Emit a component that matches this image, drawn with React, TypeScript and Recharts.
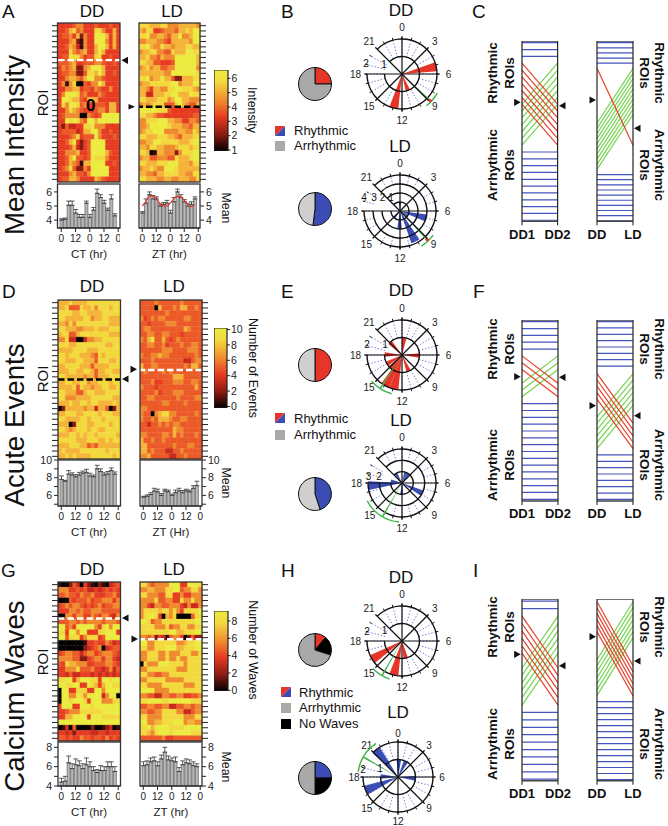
// App.tsx - circadian ROI figure (panels A-I)
import React from 'react';
import {
  Bar,
  BarChart,
  Cell,
  ComposedChart,
  ErrorBar,
  Line,
  LineChart,
  Pie,
  PieChart,
  PolarAngleAxis,
  PolarGrid,
  Radar,
  RadarChart,
  ReferenceLine,
  XAxis,
  YAxis,
} from 'recharts';

const FONT = '"Liberation Sans", Arial, sans-serif';
const RED = '#e8352a';
const BLUE = '#3b4cb4';
const GREEN = '#3fb54a';

// heat levels 0 (black) .. 9 (yellow), one string per ROI, one digit per 3 hr bin
const heatColors = ['#050000', '#3a0808', '#8a1a10', '#c92a1c', '#e63c22', '#ec5a28', '#f08a2e', '#f5b33a', '#f3d93e', '#ecec40'];

const intensityDD = [
  '44445664445444544', '44578564448864474', '45564726449997474', '44467216449996474', '44576316447997474',
  '44486567447974444', '45598864558844544', '55567445556654454', '46567226799974444', '45566225887974454',
  '44677657996654444', '46168005466974444', '44667745546544644', '46999856444654444', '49987754777444444',
  '48699856445554774', '44687654445664774', '45666600654599999', '44989865997999999', '42533448896664444',
  '45555347799644544', '44456845559644454', '44579424599994444', '44457324599994444', '44666744599997544',
  '44579554598886444', '44576517799994454', '45685226499999444', '44467554699999444', '45577644447654444',
];
const intensityLD = [
  '88877788666777776', '76884456665778799', '88966776577966799', '66777665477777699', '88976687767778877',
  '67788665587779988', '77866576669999997', '88775544459999997', '67867755669999996', '77777776699999998',
  '88967797752277788', '67788888899677799', '77647766889988876', '77337778899777988', '88777888679977666',
  '67678885558976557', '99999888544444444', '88776554444444455', '66888999776644665', '66799999877766577',
  '67889996666776687', '88777888776577788', '66779988888777899', '77688776667888788', '88701776662688899',
  '67755666558777899', '88777888999777688', '67787669998777777', '77665778888776688', '88777667766777668',
];
const eventsDD = [
  '77787777888888888', '77855587786888788', '88887788777788888', '88777778867788777', '77686888888888777',
  '88777667778777888', '78855788888888777', '66833003667788888', '88877888888887788', '77778888777888888',
  '88788877765878888', '88777887775888778', '77888877757777888', '77788778875778877', '88777776775777888',
  '77887788677888788', '77778587767788778', '88777557887778888', '88666777788888877', '77787788788777787',
  '02777776773775027', '77888778888788877', '88777788788878888', '77702888778888788', '88767888788778888',
  '77788787887888887', '88888777888778788', '77788877565777777', '78777788888887888', '77878777788888878',
];
const eventsLD = [
  '55556555555655555', '55550755565775565', '55555556555555555', '64565665555566555', '55455556665555555',
  '56655555555576555', '55665566555455555', '65795575456555555', '55665564555655665', '55555566655556665',
  '65566766555555565', '55565555555533566', '75566555555565775', '56555565655555555', '55555555577755555',
  '55564455566655665', '65554555555555575', '55556455566655555', '55665555556555566', '55555566555565555',
  '66555555555555555', '65506788665555565', '65565777655665555', '55355656566555555', '55555555576655555',
  '66555566575655565', '75565565555555555', '77555555565556655', '77565553355655555', '66755555335565555',
];
const wavesDD = [
  '10025304210210345', '66644545334345454', '55655465564445564', '00054555645566646', '45656654545645566',
  '44466565566655555', '00664664465466436', '55566565666656665', '99564999996489699', '88499699444889994',
  '99588846888459999', '00000001445446534', '00000002345603455', '45665535664566654', '66665522456646643',
  '54877666445556654', '44666855564434635', '44353344434343434', '88994799988499899', '99889944987479988',
  '09944888449969999', '09966986999936990', '09989998499966688', '49994499989999999', '44566688888899999',
  '44779999499988888', '99999999999999999', '01305000020012301', '44342444433443444', '55454465545546454',
];
const wavesLD = [
  '88656666999449998', '66776668899566886', '88666558844644666', '66668556644866866', '66436655666436336',
  '68888788686488889', '68998407680000588', '99856688888888899', '88886668566886688', '88888888997788899',
  '66562431566402522', '99668888886678899', '88668889997788899', '66888668666888668', '66888668668668888',
  '08666999888868888', '66888888886668888', '88665566888888888', '66888886666688888', '88666688888866688',
  '99996666888888888', '66553366556644556', '88999988999999888', '55665566335566566', '66556688886633566',
  '88666688888866688', '99667788899967766', '88979999888899999', '88768999899999888', '55555564455555555',
];

// mean traces, 3 hr bins over two days (the last bin at 48 hr has no bar)
const hours = [0, 3, 6, 9, 12, 15, 18, 21, 24, 27, 30, 33, 36, 39, 42, 45, 48];
const meanIntensityDD = [4.0, 4.05, 5.05, 5.05, 4.5, 4.2, 4.2, 5.2, 4.2, 4.7, 5.9, 5.6, 5.2, 4.7, 5.5, 4.3];
const meanIntensityDDErr = [0.1, 0.1, 0.3, 0.3, 0.25, 0.2, 0.2, 0.15, 0.2, 0.2, 0.3, 0.2, 0.2, 0.15, 0.3, 0.15];
const meanIntensityLD = [4.5, 5.2, 5.8, 5.5, 5.5, 5.0, 5.1, 5.2, 4.5, 5.3, 6.0, 5.6, 5.3, 5.0, 5.1, 5.5];
const meanIntensityLDErr = [0.1, 0.3, 0.2, 0.25, 0.15, 0.15, 0.15, 0.2, 0.2, 0.3, 0.2, 0.2, 0.15, 0.2, 0.2, 0.15];
const intensityFitLD = [5.0, 5.3, 5.7, 5.7, 5.5, 5.2, 5.0, 5.0, 5.2, 5.5, 5.7, 5.65, 5.4, 5.1, 4.95, 5.1];
const meanEventsDD = [7.8, 7.6, 8.4, 8.3, 8.1, 8.3, 8.5, 8.6, 8.2, 8.1, 9.0, 8.7, 8.3, 8.4, 8.8, 8.4];
const meanEventsDDErr = [0.4, 0.1, 0.4, 0.25, 0.25, 0.3, 0.25, 0.35, 0.3, 0.2, 0.4, 0.3, 0.25, 0.3, 0.3, 0.25];
const meanEventsLD = [5.8, 5.9, 6.1, 6.5, 6.4, 6.0, 6.5, 6.4, 6.0, 6.3, 6.5, 6.3, 6.5, 6.4, 6.8, 7.1];
const meanEventsLDErr = [0.1, 0.15, 0.2, 0.3, 0.3, 0.2, 0.2, 0.2, 0.15, 0.3, 0.3, 0.25, 0.2, 0.2, 0.3, 0.5];
const meanWavesDD = [4.4, 4.5, 6.4, 5.8, 6.2, 6.1, 5.8, 6.2, 6.0, 5.6, 5.4, 5.6, 5.6, 6.0, 6.0, 5.5];
const meanWavesDDErr = [0.4, 0.5, 0.7, 0.5, 0.6, 0.5, 0.5, 0.7, 0.5, 0.4, 0.3, 0.5, 0.4, 0.5, 0.5, 0.5];
const meanWavesLD = [6.1, 6.2, 6.5, 6.6, 6.1, 6.8, 7.5, 6.7, 6.6, 6.5, 5.5, 6.2, 6.4, 6.3, 6.1, 6.0];
const meanWavesLDErr = [0.4, 0.4, 0.4, 0.4, 0.4, 0.4, 0.5, 0.4, 0.3, 0.5, 0.4, 0.4, 0.4, 0.4, 0.4, 0.3];

// rose plots: bin start hour and ROI count
const roseBDDHours = [4.7, 10.2, 12.4];
const roseBDDCounts = [2, 1, 2];
const roseBLDHours = [23.5, 6.5, 7.6, 9.7, 11.6, 14.2];
const roseBLDCounts = [1, 3, 1, 3.8, 2, 1];
const roseEDDHours = [0, 20.6, 17.6, 5.6, 10, 14.3, 12.4, 13.4, 15.5];
const roseEDDCounts = [1, 1, 1, 1, 1, 1, 2, 2, 1];
const roseELDHours = [21.3, 0.8, 1.8, 17.2, 7.3, 11.6, 18.2];
const roseELDCounts = [1, 1, 1, 3, 2, 1, 1];
const roseHDDHours = [15.4, 12.4, 10.7];
const roseHDDCounts = [2, 2, 1];
const roseHLDHours = [20.9, 23.7, 1.3, 5.8, 17.6, 16];
const roseHLDCounts = [2, 1, 1, 1, 1, 2];

// pies, share of ROIs
const pieBDD = [25, 75];
const pieBLD = [52, 48];
const pieEDD = [50, 50];
const pieELD = [45, 55];
const pieHDD = [11, 19, 70];
const pieHLD = [25, 25, 50];

// alluvial ranks: blue keep their class, red and green go from -> to
const cDD = {
  blue: [0, 1, 2, 16, 17, 18, 19, 20, 21, 22, 23, 24, 25, 26],
  redFrom: [3, 4, 5, 6, 7, 8, 9], redTo: [9, 10, 11, 12, 13, 14, 15],
  greenFrom: [9, 10, 11, 12, 13, 14, 15], greenTo: [3, 4, 5, 6, 7, 8, 9],
};
const cLD = {
  blue: [0, 1, 2, 3, 4, 25.7, 26.7, 27.7, 28.7, 29.7, 30.7, 31.7, 32.7, 33.7, 34.7],
  redFrom: [5], redTo: [20],
  greenFrom: [15.7, 16.7, 17.7, 18.7, 19.7, 20.7, 21.7, 22.7, 23.7, 24.7], greenTo: [5, 6, 7, 8, 9, 10, 11, 12, 13, 14],
};
const fDD = {
  blue: [0, 1, 2, 3, 4, 12, 13, 14, 15, 16, 17, 18, 19, 20, 21, 22, 23, 24, 25, 26],
  redFrom: [5, 6, 7], redTo: [9, 10, 11],
  greenFrom: [9, 10, 11], greenTo: [5, 6, 7],
};
const fLD = {
  blue: [0, 1, 2, 3, 4, 5, 6, 7, 21, 22, 23, 24, 25, 26, 27, 28],
  redFrom: [8.2, 9.2, 10.2, 11.2, 12.2], redTo: [16, 17, 18, 19, 20],
  greenFrom: [15, 16, 17, 18, 19, 20], greenTo: [8.2, 9.2, 10.2, 11.2, 12.2, 13.2],
};
const iDD = {
  blue: [0, 1, 15, 16, 17, 18, 19, 20, 21, 22, 23, 24],
  redFrom: [2, 3, 4, 5, 6, 7], redTo: [9, 10, 11, 12, 13, 14],
  greenFrom: [9, 10, 11, 12, 13, 14], greenTo: [2, 3, 4, 5, 6, 7],
};
const iLD = {
  blue: [16.7, 17.7, 18.7, 19.7, 20.7, 21.7, 22.7, 23.7, 24.7, 25.7, 26.7, 27.7, 28.7, 29.7],
  redFrom: [0, 1, 2, 3, 4, 5], redTo: [10.7, 11.7, 12.7, 13.7, 14.7, 15.7],
  greenFrom: [9.7, 10.7, 11.7, 12.7, 13.7, 14.7, 15.7], greenTo: [0, 1, 2, 3, 4, 5, 6],
};

const dayHours = Array.from({ length: 24 }, (_, h) => h);

function HeatPanel({ x, y, w, h, rows, side, dashAt, dashColor }: any) {
  const data = hours.map((hour) => {
    const row: any = { hour };
    rows.forEach((_: string, r: number) => {
      row[`r${r}`] = 1;
    });
    return row;
  });
  const ticks = rows.map((_: string, r: number) => r + 0.5);
  const axisW = 9;
  return (
    <div style={{ position: 'absolute', left: side === 'left' ? x - axisW : x, top: y }}>
      <BarChart width={w + axisW} height={h} data={data} margin={{ top: 0, right: 0, bottom: 0, left: 0 }} barCategoryGap={0} barGap={0}>
        <XAxis dataKey="hour" hide />
        <YAxis
          orientation={side}
          width={axisW}
          type="number"
          reversed
          domain={[0, rows.length]}
          ticks={ticks}
          interval={0}
          tick={() => <g />}
          axisLine={false}
          tickSize={6}
          tickLine={{ stroke: '#222', strokeWidth: 1 }}
        />
        {rows.map((row: string, r: number) => (
          <Bar key={r} dataKey={`r${r}`} stackId="heat" isAnimationActive={false}>
            {hours.map((_, c) => {
              const color = heatColors[Number(row[c] ?? 4)];
              return <Cell key={c} fill={color} stroke={color} strokeWidth={0.3} />;
            })}
          </Bar>
        ))}
        <ReferenceLine y={dashAt} stroke={dashColor} strokeWidth={2.4} strokeDasharray="6.5 3" />
      </BarChart>
    </div>
  );
}

function MeanPanel({ x, y, w, h, values, errs, fit, domain, ticks, labels, side, name }: any) {
  const data = hours.map((hour, i) => ({
    hour,
    mean: values[i],
    err: values[i] === undefined ? undefined : [0, errs[i]],
    fit: fit ? fit[i] : undefined,
  }));
  const axisW = 24;
  const top = 7;
  return (
    <div style={{ position: 'absolute', left: side === 'left' ? x - axisW : x, top: y - top }}>
      <ComposedChart width={w + axisW} height={h + top + 36} data={data} margin={{ top, right: 0, bottom: 0, left: 0 }} barCategoryGap={0.5}>
        <XAxis
          dataKey="hour"
          ticks={[0, 12, 24, 36, 48]}
          interval={0}
          padding={{ left: 1.5, right: 0 }}
          height={36}
          tickSize={4}
          tickMargin={3}
          tick={{ fontSize: 10, fill: '#222', fontFamily: FONT }}
          tickLine={{ stroke: '#222' }}
          axisLine={{ stroke: '#222', strokeWidth: 1.2 }}
          tickFormatter={(v: number) => String(v % 24)}
          label={{ value: name, position: 'insideBottom', offset: 6, style: { fontSize: 11.5, fill: '#222', fontFamily: FONT } }}
        />
        <YAxis
          orientation={side}
          width={axisW}
          type="number"
          domain={domain}
          allowDataOverflow
          ticks={ticks}
          interval={0}
          tickSize={4}
          tickMargin={2}
          axisLine={false}
          tick={{ fontSize: 10.5, fill: '#222', fontFamily: FONT }}
          tickLine={{ stroke: '#222' }}
          tickFormatter={(v: number) => (labels.includes(v) ? String(v) : '')}
        />
        <Bar dataKey="mean" fill="#b7b7b7" stroke="#555" strokeWidth={0.6} isAnimationActive={false}>
          <ErrorBar dataKey="err" width={2.4} stroke="#333" strokeWidth={0.8} isAnimationActive={false} />
        </Bar>
        {fit && <Line dataKey="fit" type="monotone" stroke={RED} strokeWidth={1.2} dot={false} isAnimationActive={false} />}
      </ComposedChart>
    </div>
  );
}

function ColorBar({ x, y, w, h, domain, ticks, id }: any) {
  const pad = 7;
  return (
    <div style={{ position: 'absolute', left: x, top: y - pad }}>
      <BarChart width={w + 22} height={h + pad * 2} data={[{ name: 'scale', range: domain }]} margin={{ top: pad, right: 0, bottom: pad, left: 0 }} barCategoryGap={0}>
        <defs>
          <linearGradient id={id} x1="0" y1="0" x2="0" y2="1">
            <stop offset="0" stopColor="#ecec40" />
            <stop offset="0.15" stopColor="#f3d93e" />
            <stop offset="0.38" stopColor="#f08a2e" />
            <stop offset="0.58" stopColor="#e63c22" />
            <stop offset="0.8" stopColor="#8a1a10" />
            <stop offset="1" stopColor="#000" />
          </linearGradient>
        </defs>
        <XAxis dataKey="name" hide />
        <YAxis
          orientation="right"
          width={22}
          type="number"
          domain={domain}
          allowDataOverflow
          ticks={ticks}
          interval={0}
          tickSize={3}
          tickMargin={1}
          axisLine={false}
          tick={{ fontSize: 10.5, fill: '#222', fontFamily: FONT }}
          tickLine={{ stroke: '#222' }}
        />
        <Bar dataKey="range" fill={`url(#${id})`} stroke="#222" strokeWidth={1.2} isAnimationActive={false} />
      </BarChart>
    </div>
  );
}

function SharePie({ x, y, shares, colors }: any) {
  const data = shares.map((value: number, i: number) => ({ value, fill: colors[i] }));
  return (
    <div style={{ position: 'absolute', left: x - 20, top: y - 20 }}>
      <PieChart width={40} height={40} margin={{ top: 0, right: 0, bottom: 0, left: 0 }}>
        <Pie data={data} dataKey="value" cx={20} cy={20} outerRadius={16.5} startAngle={90} endAngle={-270} stroke="#111" strokeWidth={1} isAnimationActive={false} />
      </PieChart>
    </div>
  );
}

const SIZE = 124;
const MID = SIZE / 2;
const hourAngle = (h: number) => 90 - 15 * h;

// one-datum pie used as an arc or wedge between two clock hours
function sector(key: string, from: number, to: number, inner: number, outer: number, fill: string) {
  return (
    <Pie
      key={key}
      data={[{ value: 1, fill }]}
      dataKey="value"
      cx={MID}
      cy={MID}
      innerRadius={inner}
      outerRadius={outer}
      startAngle={hourAngle(from)}
      endAngle={hourAngle(to)}
      stroke="none"
      isAnimationActive={false}
      legendType="none"
    />
  );
}

function Rose({ x, y, R, levels, binHours, binCounts, color, dotFrom, meanHr, arcFrom, arcTo, dot, labelGap = 11.5 }: any) {
  const tableHours = dayHours.map((h) => ({ h, v: 1 }));
  const renderTick = (p: any) => {
    const hour = tableHours[p.index]?.h ?? 0;
    if (hour % 3 !== 0) return <g />;
    const dx = p.x - MID;
    const dy = p.y - MID;
    const len = Math.hypot(dx, dy) || 1;
    const k = (R + labelGap) / len;
    return (
      <text x={MID + dx * k} y={MID + dy * k} textAnchor="middle" dominantBaseline="central" fontSize={10} fill="#222" fontFamily={FONT}>
        {hour}
      </text>
    );
  };
  const rings = Array.from({ length: levels }, (_, i) => ((i + 1) / levels) * R);
  const box: any = { position: 'absolute', left: 0, top: 0 };
  return (
    <div style={{ position: 'absolute', left: x - MID, top: y - MID, width: SIZE, height: SIZE }}>
      <div style={box}>
        <RadarChart width={SIZE} height={SIZE} data={tableHours} cx={MID} cy={MID} innerRadius={R * dotFrom} outerRadius={R} margin={{ top: 0, right: 0, bottom: 0, left: 0 }}>
          <PolarGrid gridType="circle" polarRadius={[]} stroke="#6a6ad8" strokeWidth={0.9} strokeDasharray="1.4 1.8" />
          <PolarAngleAxis dataKey="h" axisLine={false} tick={renderTick} tickSize={2.5} tickLine={{ stroke: '#111', strokeWidth: 1 }} />
          <Radar dataKey="v" stroke="none" fill="none" isAnimationActive={false} dot={false} />
        </RadarChart>
      </div>
      <div style={box}>
        <PieChart width={SIZE} height={SIZE} margin={{ top: 0, right: 0, bottom: 0, left: 0 }}>
          {binHours.map((h: number, i: number) => sector(`w${i}`, h, h + 1, 0, (binCounts[i] / levels) * R, color))}
          {rings.map((r, i) => sector(`r${i}`, 21, 42, r - 0.7, r + 0.7, '#111'))}
          {sector('mean', meanHr - 0.08, meanHr + 0.08, 0, R + 5, GREEN)}
          {sector('ci', arcFrom, arcTo, R + 4.4, R + 5.8, GREEN)}
          {dot && sector('dot', meanHr - 0.15, meanHr + 0.15, R + 2, R + 5, RED)}
        </PieChart>
      </div>
      <div style={box}>
        <RadarChart width={SIZE} height={SIZE} data={tableHours} cx={MID} cy={MID} innerRadius={0} outerRadius={R + 2.5} margin={{ top: 0, right: 0, bottom: 0, left: 0 }}>
          <PolarGrid gridType="circle" polarRadius={[]} polarAngles={[0, 3, 6, 9, 12, 15, 18, 21].map(hourAngle)} stroke="#111" strokeWidth={1.2} />
          <Radar dataKey="v" stroke="none" fill="none" isAnimationActive={false} dot={false} />
        </RadarChart>
      </div>
    </div>
  );
}

function Alluvial({ x, y, w, h, table, ticks, domain }: any) {
  const left: any = { name: ticks[0] };
  const right: any = { name: ticks[1] };
  const series: { key: string; color: string }[] = [];
  table.blue.forEach((k: number, i: number) => {
    left[`b${i}`] = k;
    right[`b${i}`] = k;
    series.push({ key: `b${i}`, color: '#4455bd' });
  });
  table.greenFrom.forEach((k: number, i: number) => {
    left[`g${i}`] = k;
    right[`g${i}`] = table.greenTo[i];
    series.push({ key: `g${i}`, color: '#74d44e' });
  });
  table.redFrom.forEach((k: number, i: number) => {
    left[`r${i}`] = k;
    right[`r${i}`] = table.redTo[i];
    series.push({ key: `r${i}`, color: '#e8412c' });
  });
  const pad = 22;
  return (
    <div style={{ position: 'absolute', left: x - pad, top: y }}>
      <LineChart width={w + pad * 2} height={h + 28} data={[left, right]} margin={{ top: 0, right: pad, bottom: 0, left: pad }}>
        <XAxis
          dataKey="name"
          interval={0}
          padding={{ left: 0, right: 0 }}
          height={28}
          tickSize={4}
          tickMargin={4}
          axisLine={false}
          tick={{ fontSize: 13, fontWeight: 700, fill: '#111', fontFamily: FONT }}
          tickLine={{ stroke: '#111' }}
        />
        <YAxis hide reversed type="number" domain={domain} allowDataOverflow />
        {series.map((s) => (
          <Line key={s.key} dataKey={s.key} stroke={s.color} strokeWidth={1.2} dot={false} isAnimationActive={false} />
        ))}
        <ReferenceLine x={ticks[0]} stroke="#222" strokeWidth={1.2} />
        <ReferenceLine x={ticks[1]} stroke="#222" strokeWidth={1.2} />
        <ReferenceLine y={domain[0]} stroke="#444" strokeWidth={1.6} />
        <ReferenceLine y={domain[1]} stroke="#444" strokeWidth={1.6} />
      </LineChart>
    </div>
  );
}

function T({ x, y, size, rot, anchor = 'middle', weight, children }: any) {
  return (
    <text
      x={x}
      y={y}
      fontSize={size}
      fontWeight={weight}
      fill="#111"
      fontFamily={FONT}
      textAnchor={anchor}
      transform={rot ? `rotate(${rot} ${x} ${y})` : undefined}
    >
      {children}
    </text>
  );
}

// x is the tip, dir +1 points right, -1 points left
function Arrow({ x, y, dir, s = 3.6 }: any) {
  return <polygon points={`${x},${y} ${x - dir * 6.5},${y - s} ${x - dir * 6.5},${y + s}`} fill="#111" />;
}

function RowAnnotations({ rhythmicY, arrhythmicY }: any) {
  return (
    <>
      <T x={497} y={rhythmicY} size={13.5} rot={-90} weight={700}>Rhythmic</T>
      <T x={513.5} y={rhythmicY} size={13.5} rot={-90} weight={700}>ROIs</T>
      <T x={497} y={arrhythmicY} size={13.5} rot={-90} weight={700}>Arrhythmic</T>
      <T x={513.5} y={arrhythmicY} size={13.5} rot={-90} weight={700}>ROIs</T>
      <T x={655} y={rhythmicY} size={13.5} rot={90} weight={700}>Rhythmic</T>
      <T x={640} y={rhythmicY} size={13.5} rot={90} weight={700}>ROIs</T>
      <T x={655} y={arrhythmicY} size={13.5} rot={90} weight={700}>Arrhythmic</T>
      <T x={640} y={arrhythmicY} size={13.5} rot={90} weight={700}>ROIs</T>
    </>
  );
}

function Swatch({ x, y }: any) {
  return (
    <>
      <polygon points={`${x},${y} ${x + 10},${y} ${x},${y + 10}`} fill={RED} />
      <polygon points={`${x + 10},${y} ${x + 10},${y + 10} ${x},${y + 10}`} fill={BLUE} />
    </>
  );
}

function Frame({ x, y, w, h }: any) {
  return <rect x={x} y={y} width={w} height={h} fill="none" stroke="#333" strokeWidth={1.3} />;
}

export default function App() {
  return (
    <div style={{ position: 'absolute', left: 0, top: 0, width: 668, height: 826, overflow: 'hidden', background: '#fff' }}>
      <HeatPanel x={57.5} y={23} w={62} h={159} rows={intensityDD} side="left" dashAt={7} dashColor="#fff" />
      <HeatPanel x={139} y={23} w={61} h={159} rows={intensityLD} side="right" dashAt={15.8} dashColor="#000" />
      <MeanPanel x={57.5} y={184} w={62} h={44} values={meanIntensityDD} errs={meanIntensityDDErr} domain={[3.44, 6.56]} ticks={[4, 5, 6]} labels={[4, 5, 6]} side="left" name="CT (hr)" />
      <MeanPanel x={139} y={184} w={61} h={44} values={meanIntensityLD} errs={meanIntensityLDErr} fit={intensityFitLD} domain={[3.44, 6.56]} ticks={[4, 5, 6]} labels={[4, 5, 6]} side="right" name="ZT (hr)" />
      <ColorBar x={213.5} y={70} w={13.5} h={81} domain={[0.93, 6.58]} ticks={[1, 2, 3, 4, 5, 6]} id="gradA" />

      <HeatPanel x={58} y={300} w={62} h={159} rows={eventsDD} side="left" dashAt={15} dashColor="#000" />
      <HeatPanel x={140} y={300} w={62} h={159} rows={eventsLD} side="right" dashAt={13.2} dashColor="#fff" />
      <MeanPanel x={58} y={460} w={62} h={46} values={meanEventsDD} errs={meanEventsDDErr} domain={[4.8, 10]} ticks={[5, 6, 7, 8, 9, 10]} labels={[6, 8, 10]} side="left" name="CT (hr)" />
      <MeanPanel x={140} y={460} w={62} h={46} values={meanEventsLD} errs={meanEventsLDErr} domain={[4.8, 10]} ticks={[5, 6, 7, 8, 9, 10]} labels={[6, 8, 10]} side="right" name="ZT (Hr)" />
      <ColorBar x={213.5} y={328} w={13} h={80} domain={[-0.2, 10.2]} ticks={[0, 2, 4, 6, 8, 10]} id="gradD" />

      <HeatPanel x={58} y={582} w={62} h={159} rows={wavesDD} side="left" dashAt={6.9} dashColor="#fff" />
      <HeatPanel x={140} y={582} w={62} h={159} rows={wavesLD} side="right" dashAt={10.8} dashColor="#fff" />
      <MeanPanel x={58} y={742} w={62} h={44} values={meanWavesDD} errs={meanWavesDDErr} domain={[4, 8.55]} ticks={[4, 5, 6, 7, 8]} labels={[4, 6, 8]} side="left" name="CT (hr)" />
      <MeanPanel x={140} y={742} w={62} h={44} values={meanWavesLD} errs={meanWavesLDErr} domain={[4, 8.55]} ticks={[4, 5, 6, 7, 8]} labels={[4, 6, 8]} side="right" name="ZT (hr)" />
      <ColorBar x={213.5} y={611} w={13.5} h={80} domain={[-0.08, 9.15]} ticks={[0, 2, 4, 6, 8]} id="gradG" />

      <SharePie x={315} y={83.5} shares={pieBDD} colors={[RED, '#a9a9a9']} />
      <SharePie x={315} y={208.5} shares={pieBLD} colors={[BLUE, '#cfcfcf']} />
      <SharePie x={315} y={365} shares={pieEDD} colors={[RED, '#cfcfcf']} />
      <SharePie x={315} y={493.5} shares={pieELD} colors={[BLUE, '#cfcfcf']} />
      <SharePie x={315} y={650} shares={pieHDD} colors={[RED, '#000', '#a9a9a9']} />
      <SharePie x={315} y={777.5} shares={pieHLD} colors={[BLUE, '#000', '#a9a9a9']} />

      <Rose x={401.7} y={74} R={35} levels={2} binHours={roseBDDHours} binCounts={roseBDDCounts} color={RED} dotFrom={0.5} meanHr={8.9} arcFrom={7.9} arcTo={9.5} dot />
      <Rose x={400} y={210.7} R={36} levels={4} binHours={roseBLDHours} binCounts={roseBLDCounts} color={BLUE} dotFrom={0.75} meanHr={9.1} arcFrom={8.4} arcTo={9.9} dot />
      <Rose x={401.7} y={355} R={35} levels={2} binHours={roseEDDHours} binCounts={roseEDDCounts} color={RED} dotFrom={0.5} meanHr={14.2} arcFrom={13} arcTo={15.3} />
      <Rose x={401.7} y={482.7} R={34} levels={3} binHours={roseELDHours} binCounts={roseELDCounts} color={BLUE} dotFrom={0.66} meanHr={14} arcFrom={12.3} arcTo={16.2} />
      <Rose x={401.7} y={640.7} R={35} levels={2} binHours={roseHDDHours} binCounts={roseHDDCounts} color={RED} dotFrom={0.5} meanHr={14} arcFrom={13.2} arcTo={15.1} />
      <Rose x={398.3} y={776.7} R={35} levels={2} binHours={roseHLDHours} binCounts={roseHLDCounts} color={BLUE} dotFrom={0.5} meanHr={20} arcFrom={18.5} arcTo={21.8} labelGap={9} />

      <Alluvial x={521.7} y={40.7} w={35.6} h={180.3} table={cDD} ticks={['DD1', 'DD2']} domain={[-0.25, 26.15]} />
      <Alluvial x={596.7} y={40.7} w={36} h={180.3} table={cLD} ticks={['DD', 'LD']} domain={[-0.32, 34.8]} />
      <Alluvial x={521.7} y={320} w={36} h={181} table={fDD} ticks={['DD1', 'DD2']} domain={[-0.25, 26.25]} />
      <Alluvial x={596.7} y={320} w={36} h={181} table={fLD} ticks={['DD', 'LD']} domain={[-0.25, 28.25]} />
      <Alluvial x={521.7} y={599} w={36} h={181.7} table={iDD} ticks={['DD1', 'DD2']} domain={[-0.3, 24.2]} />
      <Alluvial x={596.7} y={599} w={36} h={181.7} table={iLD} ticks={['DD', 'LD']} domain={[-0.45, 29.9]} />

      <svg width={668} height={826} style={{ position: 'absolute', left: 0, top: 0, pointerEvents: 'none' }}>
        <Frame x={57.5} y={23} w={62.5} h={159} />
        <Frame x={139} y={23} w={61} h={159} />
        <Frame x={57.5} y={184} w={62.5} h={44} />
        <Frame x={139} y={184} w={61} h={44} />
        <Frame x={58} y={300} w={62.5} h={159} />
        <Frame x={140} y={300} w={62} h={159} />
        <Frame x={58} y={460} w={62.5} h={46} />
        <Frame x={140} y={460} w={62} h={46} />
        <Frame x={58} y={582} w={62.5} h={159} />
        <Frame x={140} y={582} w={62} h={159} />
        <Frame x={58} y={742} w={62.5} h={44} />
        <Frame x={140} y={742} w={62} h={44} />

        <T x={2} y={18} size={19} anchor="start">A</T>
        <T x={281} y={18} size={19} anchor="start">B</T>
        <T x={472} y={18} size={19} anchor="start">C</T>
        <T x={2} y={298} size={19} anchor="start">D</T>
        <T x={281} y={298} size={19} anchor="start">E</T>
        <T x={473} y={298} size={19} anchor="start">F</T>
        <T x={1} y={577} size={19} anchor="start">G</T>
        <T x={281} y={577} size={19} anchor="start">H</T>
        <T x={473} y={577} size={19} anchor="start">I</T>

        <T x={92} y={17} size={17}>DD</T>
        <T x={172} y={17} size={17}>LD</T>
        <T x={92} y={292} size={17}>DD</T>
        <T x={174} y={292} size={17}>LD</T>
        <T x={92} y={575} size={17}>DD</T>
        <T x={174} y={575} size={17}>LD</T>

        <T x={401} y={16} size={17}>DD</T>
        <T x={400} y={152} size={17}>LD</T>
        <T x={401} y={296} size={17}>DD</T>
        <T x={401} y={426} size={17}>LD</T>
        <T x={401} y={583} size={17}>DD</T>
        <T x={398} y={718} size={17}>LD</T>

        <T x={24} y={145} size={27.7} rot={-90}>Mean Intensity</T>
        <T x={24} y={425} size={27.7} rot={-90}>Acute Events</T>
        <T x={24} y={696} size={27.7} rot={-90}>Calcium Waves</T>

        <T x={47.5} y={103} size={15} rot={-90}>ROI</T>
        <T x={47.5} y={379} size={15} rot={-90}>ROI</T>
        <T x={47.5} y={662} size={15} rot={-90}>ROI</T>
        <T x={222} y={208} size={12.3} rot={90}>Mean</T>
        <T x={222} y={483} size={12.3} rot={90}>Mean</T>
        <T x={222} y={767} size={12.3} rot={90}>Mean</T>
        <T x={248} y={110} size={12.3} rot={90}>Intensity</T>
        <T x={249} y={368} size={12.5} rot={90}>Number of Events</T>
        <T x={249} y={650} size={12.5} rot={90}>Number of Waves</T>
        <text x={90.7} y={111} fontSize={17} fontWeight={700} textAnchor="middle" fontFamily={FONT} fill="#000">0</text>

        <Arrow x={121.5} y={60.3} dir={-1} />
        <Arrow x={135} y={106.7} dir={1} s={2.8} />
        <Arrow x={122} y={379} dir={-1} />
        <Arrow x={137} y={369.3} dir={1} />
        <Arrow x={122} y={618} dir={-1} />
        <Arrow x={138} y={639} dir={1} />
        <Arrow x={520.7} y={102.3} dir={1} />
        <Arrow x={559} y={105.7} dir={-1} />
        <Arrow x={596} y={100} dir={1} />
        <Arrow x={634} y={128.3} dir={-1} />
        <Arrow x={520.7} y={376.7} dir={1} />
        <Arrow x={559} y={377.3} dir={-1} />
        <Arrow x={596} y={405.7} dir={1} />
        <Arrow x={634} y={415.7} dir={-1} />
        <Arrow x={520.7} y={654.3} dir={1} />
        <Arrow x={559} y={665.7} dir={-1} />
        <Arrow x={596} y={636.7} dir={1} />
        <Arrow x={634} y={661} dir={-1} />

        <RowAnnotations rhythmicY={73} arrhythmicY={165} />
        <RowAnnotations rhythmicY={349} arrhythmicY={465} />
        <RowAnnotations rhythmicY={627} arrhythmicY={744} />

        <Swatch x={275} y={126} />
        <T x={294} y={135} size={13} anchor="start">Rhythmic</T>
        <rect x={275} y={141} width={10} height={10} fill="#a9a9a9" />
        <T x={294} y={150} size={13} anchor="start">Arrhythmic</T>
        <Swatch x={275} y={413} />
        <T x={294} y={423} size={13} anchor="start">Rhythmic</T>
        <rect x={275} y={430} width={10} height={10} fill="#a9a9a9" />
        <T x={294} y={439} size={13} anchor="start">Arrhythmic</T>
        <Swatch x={281} y={687} />
        <T x={299} y={697} size={13} anchor="start">Rhythmic</T>
        <rect x={281} y={703} width={10} height={10} fill="#a9a9a9" />
        <T x={299} y={712} size={13} anchor="start">Arrhythmic</T>
        <rect x={281} y={719} width={10} height={10} fill="#000" />
        <T x={299} y={728} size={13} anchor="start">No Waves</T>

        <T x={366} y={67} size={10}>2</T>
        <T x={384} y={68} size={10}>1</T>
        <T x={364} y={201} size={10}>4</T>
        <T x={374} y={201} size={10}>3</T>
        <T x={382.5} y={201} size={10}>2</T>
        <T x={391} y={201} size={10}>1</T>
        <T x={367} y={348} size={10}>2</T>
        <T x={385} y={348} size={10}>1</T>
        <T x={368.5} y={480} size={10}>3</T>
        <T x={379} y={480} size={10}>2</T>
        <T x={367} y={635} size={10}>2</T>
        <T x={384.5} y={634} size={10}>1</T>
        <T x={363} y={773} size={10}>2</T>
        <T x={380} y={772} size={10}>1</T>
      </svg>
    </div>
  );
}
